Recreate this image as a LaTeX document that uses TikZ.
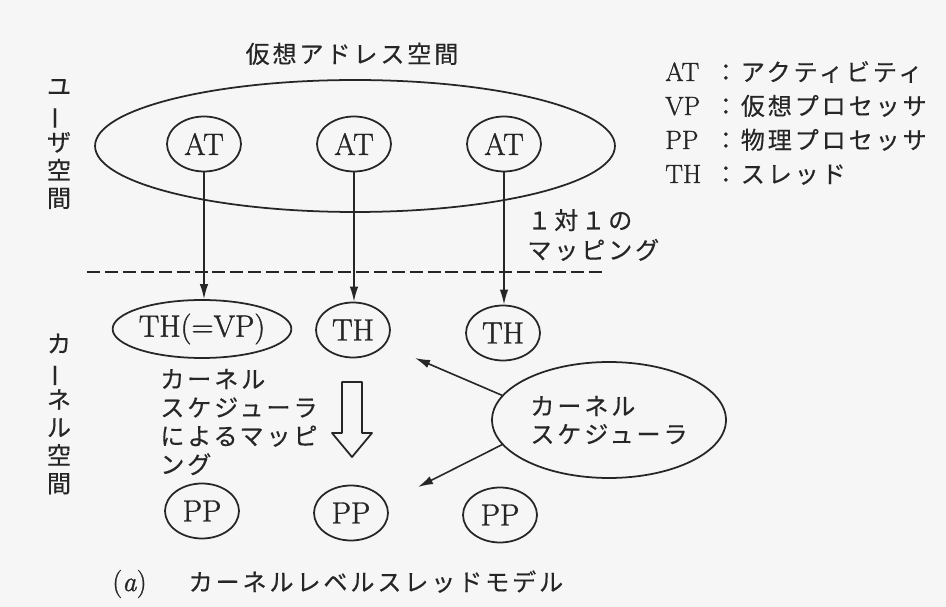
\documentclass[tikz,border=0pt]{standalone}
\usepackage{fontspec}
\usepackage{graphicx}
\newfontfamily\jp[LetterSpace=12, FakeBold=0.4]{Noto Sans CJK JP}
\newfontfamily\lat[FakeBold=1.2]{Latin Modern Roman}
\usetikzlibrary{arrows.meta, shapes.geometric}
\definecolor{ink}{HTML}{262626}
\definecolor{paper}{HTML}{F6F6F6}
\tikzset{
  oval/.style={ellipse, draw=ink, line width=1pt, inner sep=0pt,
    minimum width=1.48cm, minimum height=1.1cm, text=ink,
    font=\fontsize{17.5pt}{17pt}\selectfont\lat},
  jtext/.style={font=\fontsize{13.7pt}{16pt}\selectfont\jp, text=ink, inner sep=0pt},
  legend/.style={font=\fontsize{15pt}{16pt}\selectfont\lat, text=ink, inner sep=0pt, anchor=base west},
  maparrow/.style={-{Latex[length=3mm, width=1.7mm]}, draw=ink, line width=0.9pt},
}
\begin{document}
\begin{tikzpicture}[x=0.02cm, y=-0.02cm, line join=round]
  \fill[paper] (0,0) rectangle (946,607);
  \useasboundingbox (0,0) rectangle (946,607);
  % virtual address space with the activities
  \node[jtext, anchor=base] (vastitle) at (352,63) {仮想アドレス空間};
  \node[oval, minimum width=10.4cm, minimum height=2.64cm] (vas) at (355,146) {};
  \foreach \i/\x in {1/204, 2/354, 3/504}{
    \node[oval] (at\i) at (\x,144) {AT};
  }
  % threads (kernel side)
  \node[oval, minimum width=3.44cm, minimum height=1.16cm] (th1) at (202,329) {TH(=VP)};
  \node[oval] (th2) at (353,330) {TH};
  \node[oval] (th3) at (503,333) {TH};
  % physical processors
  \foreach \i/\x/\y in {1/202/511, 2/351/513, 3/500/515}{
    \node[oval] (pp\i) at (\x,\y) {PP};
  }
  % one-to-one mapping AT -> TH
  \foreach \i in {1,2,3}{
    \draw[maparrow] (at\i.south) -- (at\i.south |- th\i.north);
  }
  \node[jtext, align=left, anchor=west, font=\fontsize{13.7pt}{17pt}\selectfont\jp] (onetoone) at (527,235) {１対１の\\マッピング};
  % user / kernel boundary
  \draw[ink, line width=1.1pt, dash pattern=on 7.4pt off 2.8pt] (87,272) -- (603,272);
  % space labels, set vertically
  \node[jtext, align=center, font=\fontsize{13.7pt}{15.9pt}\selectfont\jp] (uspace) at (59,144)
    {ユ\\\rotatebox[origin=c]{90}{ー}\\ザ\\空\\間};
  \node[jtext, align=center, font=\fontsize{13.7pt}{15.9pt}\selectfont\jp] (kspace) at (59,414)
    {カ\\\rotatebox[origin=c]{90}{ー}\\ネ\\ル\\空\\間};
  % kernel scheduler and its mapping
  \node[jtext, align=left, anchor=west, font=\fontsize{13.7pt}{16.2pt}\selectfont\jp] (kmap) at (160,422)
    {カーネル\\スケジューラ\\によるマッピ\\ング};
  \draw[ink, line width=1pt] (342,382) -- (362,382) -- (362,433) -- (372,433) -- (352,457)
    -- (332,433) -- (342,433) -- cycle;
  \node[oval, jtext, align=left, minimum width=4.68cm, minimum height=2.32cm,
    font=\fontsize{13.7pt}{16pt}\selectfont\jp] (ks) at (609,420) {カーネル\\スケジューラ};
  \coordinate (kstip1) at (415,358);
  \coordinate (kstip2) at (418,487);
  \draw[maparrow] (ks.167) -- (kstip1);
  \draw[maparrow] (ks.193) -- (kstip2);
  % legend
  \foreach \k/\t/\y in {AT/アクティビティ/72, VP/仮想プロセッサ/106, PP/物理プロセッサ/140, TH/スレッド/174}{
    \node[legend] (leg\k) at (665,\y+9) {\makebox[0.97cm][l]{\k}{\jp\fontsize{13.7pt}{16pt}\selectfont ：\t}};
  }
  % caption
  \node[legend, font=\fontsize{16pt}{16pt}\selectfont\lat] (caption) at (112,591)
    {(\textit{a})\hspace{0.84cm}{\jp\fontsize{13.7pt}{16pt}\selectfont カーネルレベルスレッドモデル}};
\end{tikzpicture}
\end{document}
